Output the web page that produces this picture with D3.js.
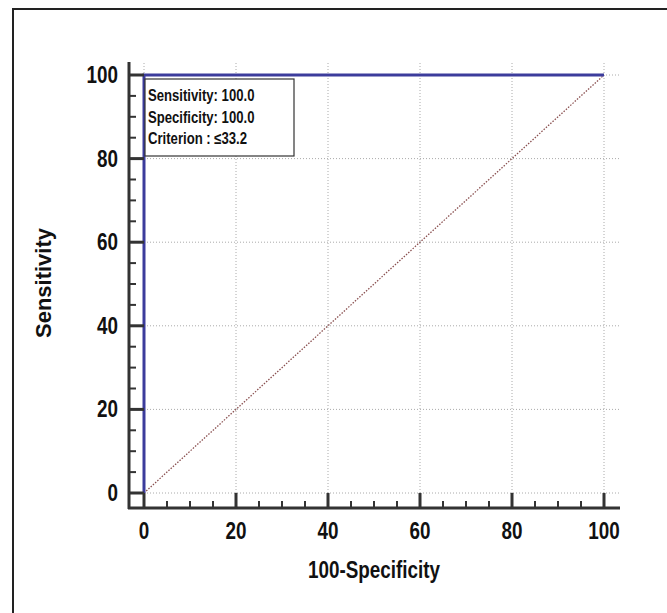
<!DOCTYPE html>
<html>
<head>
<meta charset="utf-8">
<script src="https://cdn.jsdelivr.net/npm/d3@7"></script>
<style>
  body { margin: 0; background: #fff; }
  svg text { font-family: "Liberation Sans", Arial, sans-serif; font-weight: bold; fill: #111; }
</style>
</head>
<body>
<svg id="chart" width="667" height="613"></svg>
<script>
// ROC curve points (100-Specificity, Sensitivity)
let rocX = [0, 0, 100];
let rocY = [0, 100, 100];
let refLine = [0, 100];
let majorTicks = [0, 20, 40, 60, 80, 100];
let minorTicks = d3.range(0, 101, 5);
let legendLines = ["Sensitivity: 100.0", "Specificity: 100.0", "Criterion : \u226433.2"];

// condensed look (no Arial Narrow here, so squeeze horizontally)
let narrow = 0.82;
let nt = (px, py) => "translate(" + px + "," + py + ") scale(" + narrow + ",1)";

let svg = d3.select("#chart");

// page frame (top + left only)
svg.append("path")
  .attr("d", "M13,613 V9 H667")
  .attr("fill", "none")
  .attr("stroke", "#222")
  .attr("stroke-width", 2);

let x = d3.scaleLinear().domain([0, 100]).range([144, 604]);
let y = d3.scaleLinear().domain([0, 100]).range([493, 75]);

let axisY = 508, axisX = 129;

// grid
let grid = svg.append("g");
grid.selectAll(".gv").data(majorTicks).enter().append("line")
  .attr("x1", d => x(d)).attr("x2", d => x(d))
  .attr("y1", 63).attr("y2", y(0))
  .attr("stroke", "#aaa").attr("stroke-dasharray", "1,2");
grid.selectAll(".gh").data(majorTicks).enter().append("line")
  .attr("x1", x(0)).attr("x2", 619)
  .attr("y1", d => y(d)).attr("y2", d => y(d))
  .attr("stroke", "#aaa").attr("stroke-dasharray", "1,2");

// reference diagonal
svg.append("line")
  .attr("x1", x(refLine[0])).attr("y1", y(refLine[0]))
  .attr("x2", x(refLine[1])).attr("y2", y(refLine[1]))
  .attr("stroke", "#8a5050").attr("stroke-width", 1.3)
  .attr("stroke-dasharray", "1.5,1.5");

// ROC curve
let line = d3.line().x(d => x(d[0])).y(d => y(d[1]));
svg.append("path")
  .datum(rocX.map((v, i) => [v, rocY[i]]))
  .attr("d", line)
  .attr("fill", "none")
  .attr("stroke", "#3c3c9c")
  .attr("stroke-width", 3);

// axes (offset from plot area)
let ax = svg.append("g").attr("stroke", "#333");
ax.append("line").attr("x1", 128).attr("x2", 620).attr("y1", axisY).attr("y2", axisY).attr("stroke-width", 3);
ax.append("line").attr("x1", axisX).attr("x2", axisX).attr("y1", 62).attr("y2", 509).attr("stroke-width", 3);

ax.selectAll(".tx").data(minorTicks).enter().append("line")
  .attr("x1", d => x(d)).attr("x2", d => x(d))
  .attr("y1", axisY).attr("y2", d => d % 20 === 0 ? y(0) : axisY - 7)
  .attr("stroke-width", d => d % 20 === 0 ? 3 : 2);
ax.selectAll(".ty").data(minorTicks).enter().append("line")
  .attr("y1", d => y(d)).attr("y2", d => y(d))
  .attr("x1", axisX).attr("x2", d => d % 20 === 0 ? x(0) : axisX + 7)
  .attr("stroke-width", d => d % 20 === 0 ? 3 : 2);

// tick labels
svg.selectAll(".lx").data(majorTicks).enter().append("text")
  .attr("transform", d => nt(x(d), 539))
  .attr("text-anchor", "middle")
  .attr("font-size", 23)
  .text(d => d);
svg.selectAll(".ly").data(majorTicks).enter().append("text")
  .attr("transform", d => nt(118, y(d) + 8))
  .attr("text-anchor", "end")
  .attr("font-size", 23)
  .text(d => d);

// axis titles
svg.append("text")
  .attr("transform", "translate(51,283) rotate(-90)")
  .attr("text-anchor", "middle")
  .attr("font-size", 22)
  .text("Sensitivity");
svg.append("text")
  .attr("transform", nt(374, 578))
  .attr("text-anchor", "middle")
  .attr("font-size", 23)
  .text("100-Specificity");

// legend box
let lg = svg.append("g");
lg.append("rect")
  .attr("x", 145).attr("y", 79).attr("width", 149).attr("height", 77)
  .attr("fill", "#fff").attr("stroke", "#333").attr("stroke-width", 1.2);
lg.selectAll("text").data(legendLines).enter().append("text")
  .attr("transform", (d, i) => nt(148, 101 + i * 21.5))
  .attr("font-size", 16)
  .text(d => d);
</script>
</body>
</html>
